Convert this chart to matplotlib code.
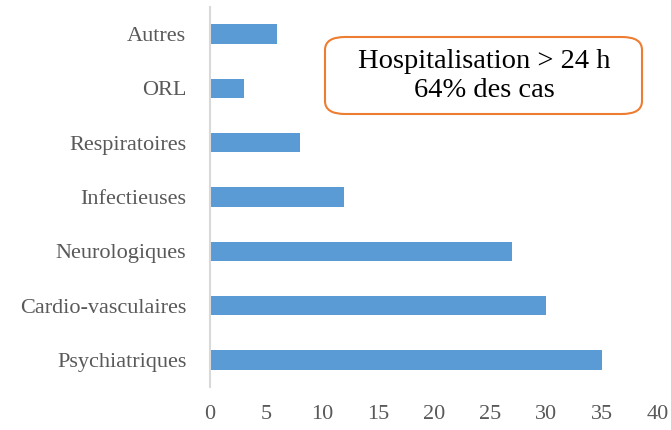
import matplotlib.pyplot as plt
from matplotlib.patches import FancyBboxPatch

categories = ['Psychiatriques', 'Cardio-vasculaires', 'Neurologiques',
              'Infectieuses', 'Respiratoires', 'ORL', 'Autres']
values = [35, 30, 27, 12, 8, 3, 6]
xticks = [0, 5, 10, 15, 20, 25, 30, 35, 40]

plt.rcParams['font.family'] = ['Liberation Serif', 'DejaVu Serif']

fig = plt.figure(figsize=(6.71, 4.30), dpi=100)
ax = fig.add_axes([210 / 671, 43 / 430, 448 / 671, 380 / 430])

ax.barh(range(len(categories)), values, height=0.36, color='#5B9BD5')
ax.set_yticks(range(len(categories)))
ax.set_yticklabels(categories)
ax.set_xticks(xticks)
ax.set_xlim(0, 40)
ax.set_ylim(-0.5, len(categories) - 0.5)

for s in ['top', 'right', 'bottom']:
    ax.spines[s].set_visible(False)
ax.spines['left'].set_color('#D9D9D9')
ax.spines['left'].set_linewidth(1.5)
ax.tick_params(length=0, labelsize=16, colors='#595959')
ax.tick_params(axis='y', pad=17)
ax.tick_params(axis='x', pad=13)

# encadré
box = FancyBboxPatch((325 / 671, 1 - 114 / 430), 317 / 671, 77 / 430,
                     boxstyle='round,pad=0,rounding_size=0.03',
                     transform=fig.transFigure, facecolor='white',
                     edgecolor='#ED7D31', linewidth=1.5)
fig.patches.append(box)
fig.text(484 / 671, 1 - 76 / 430, 'Hospitalisation > 24 h\n64% des cas',
         ha='center', va='center', fontsize=20.5, color='black', linespacing=1.25)

fig.savefig('out.png', dpi=100)
